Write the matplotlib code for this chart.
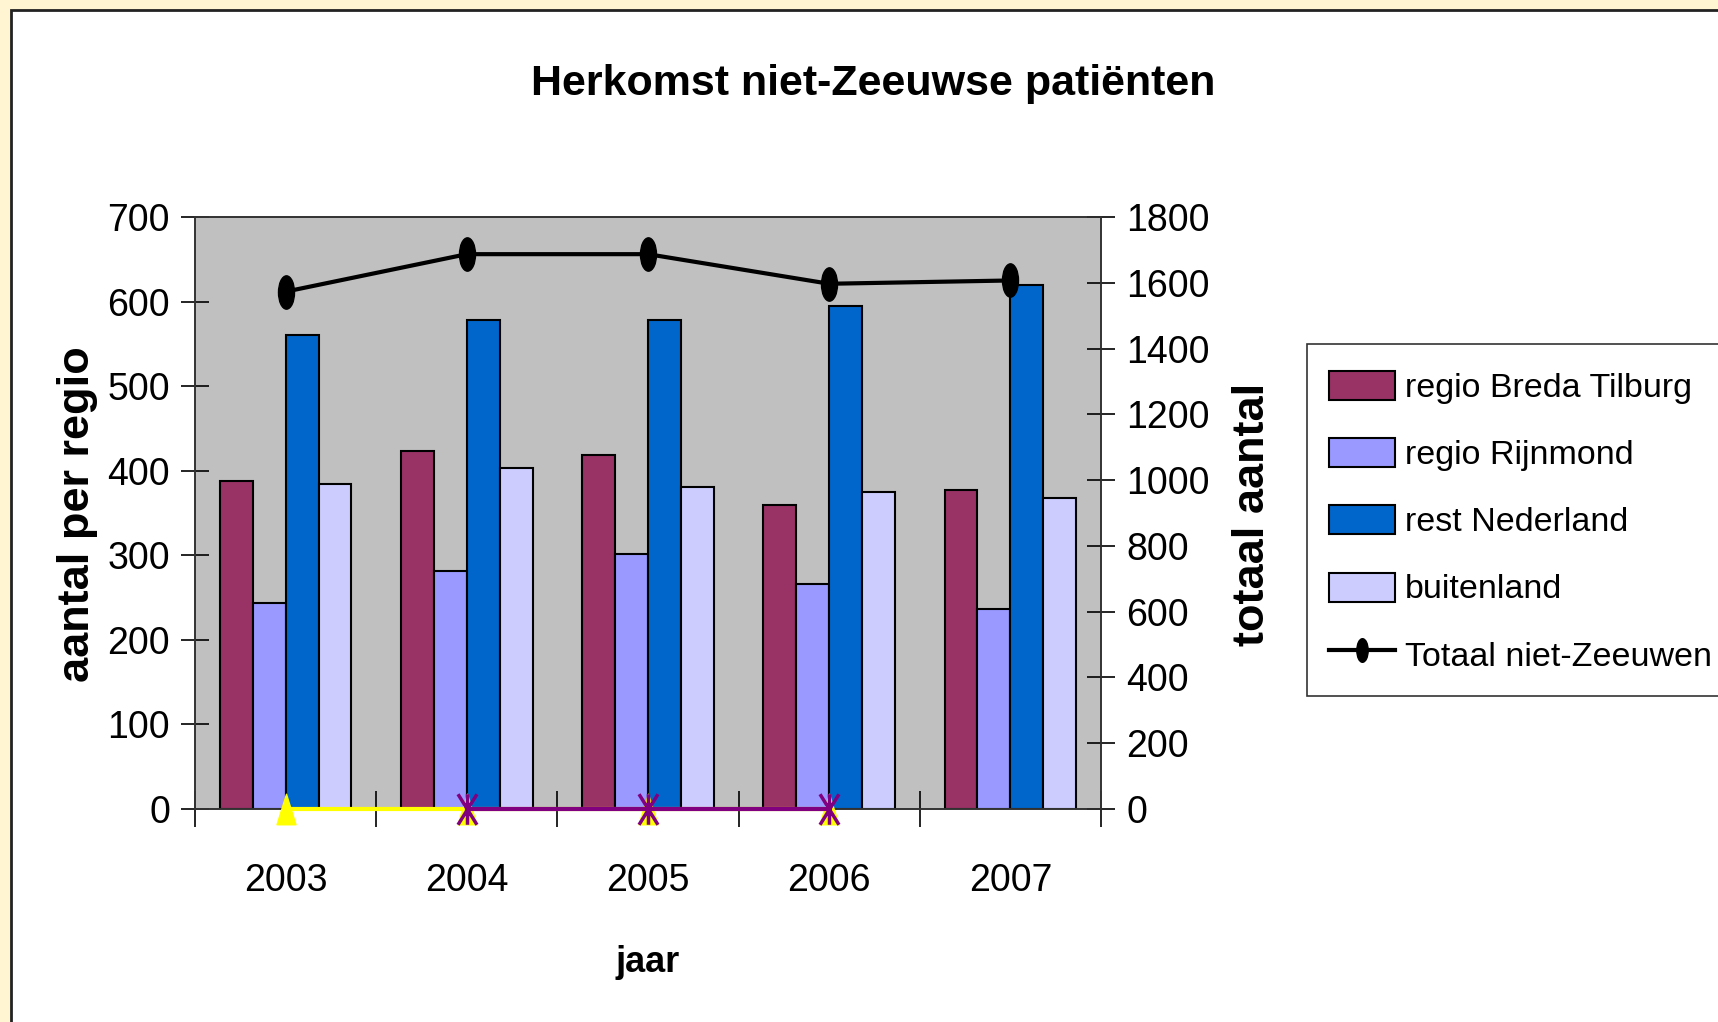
import numpy as np
import matplotlib.pyplot as plt
from matplotlib.patches import Rectangle
from matplotlib.path import Path
from matplotlib.legend_handler import HandlerPatch

# data
jaren = ['2003', '2004', '2005', '2006', '2007']
breda_tilburg = [388, 423, 419, 360, 377]
rijnmond = [244, 281, 301, 266, 237]
rest_nederland = [560, 578, 578, 595, 620]
buitenland = [384, 403, 381, 375, 368]
totaal = [1573, 1687, 1687, 1597, 1607]
# two hidden zero series sitting on the x axis
nul_geel = [0, 0, 0, 0]       # 2003-2006
nul_paars = [0, 0, 0]         # 2004-2006

series = [
    ('regio Breda Tilburg', breda_tilburg, '#993366'),
    ('regio Rijnmond', rijnmond, '#9999FF'),
    ('rest Nederland', rest_nederland, '#0066CC'),
    ('buitenland', buitenland, '#CCCCFF'),
]

FONT = 'Liberation Sans'
TICK = 27

W, H = 1718, 1022
fig = plt.figure(figsize=(W / 100, H / 100), dpi=100)
fig.patch.set_facecolor('#FFF5D2')
fig.patches.append(Rectangle((11 / W, -0.1), 1.2, 1 - 10 / H + 0.1,
                             transform=fig.transFigure, facecolor='white',
                             edgecolor='#222222', linewidth=2, zorder=-5))

ax = fig.add_axes([195 / W, 1 - 809 / H, (1101 - 195) / W, (809 - 217) / H])
ax.set_facecolor('#C0C0C0')

x = np.arange(len(jaren))
w = 1 / 5.5
handles = []
for i, (naam, vals, kleur) in enumerate(series):
    b = ax.bar(x + (i - 1.5) * w, vals, w, color=kleur, edgecolor='black',
               linewidth=1.5, label=naam, zorder=2)
    handles.append(b.patches[0])

ax.set_xlim(-0.5, len(jaren) - 0.5)
ax.set_ylim(0, 700)
ax.set_yticks(range(0, 701, 100))
ax.set_xticks(x)
ax.set_xticklabels(jaren)
ax.set_xticks(np.arange(-0.5, len(jaren)), minor=True)
ax.tick_params(axis='x', which='major', length=0, pad=39)
ax.tick_params(axis='x', which='minor', direction='inout', length=26, width=1.2)
ax.tick_params(axis='y', direction='inout', length=20, width=1.2, pad=8)
for lab in ax.get_xticklabels() + ax.get_yticklabels():
    lab.set_fontfamily(FONT)
    lab.set_fontsize(TICK)

ax2 = ax.twinx()
ax2.set_ylim(0, 1800)
ax2.set_yticks(range(0, 1801, 200))
ax2.tick_params(axis='y', direction='inout', length=20, width=1.2, pad=8)
for lab in ax2.get_yticklabels():
    lab.set_fontfamily(FONT)
    lab.set_fontsize(TICK)

for a in (ax, ax2):
    for s in a.spines.values():
        s.set_color('#333333')
        s.set_linewidth(1.2)

# tall markers, as in the original
circ = Path.unit_circle()
ovaal = Path(circ.vertices * np.array([0.48, 1.0]), circ.codes)
driehoek = Path([(-0.62, -1), (0.62, -1), (0, 1), (-0.62, -1)],
                [Path.MOVETO, Path.LINETO, Path.LINETO, Path.CLOSEPOLY])
ster = Path([(-0.62, -1), (0.62, 1), (0.62, -1), (-0.62, 1), (0, -1), (0, 1)],
            [Path.MOVETO, Path.LINETO] * 3)

ax2.plot(x[:4], nul_geel, color='yellow', lw=3, marker=driehoek, ms=22,
         clip_on=False, zorder=3)
ax2.plot(x[1:4], nul_paars, color='#800080', lw=3, marker=ster, ms=22,
         mew=2.5, clip_on=False, zorder=4)
lijn, = ax2.plot(x, totaal, color='black', lw=3, marker=ovaal, ms=24,
                 label='Totaal niet-Zeeuwen', zorder=5)


def klein_vak(legend, orig_handle, xdescent, ydescent, width, height, fontsize):
    h = 0.85 * fontsize
    return Rectangle((-xdescent, -ydescent + (height - h) / 2), width, h)


leg = fig.legend(handles + [lijn], [s[0] for s in series] + ['Totaal niet-Zeeuwen'],
                 loc='upper left', bbox_to_anchor=(1307 / W, 1 - 344 / H),
                 prop={'family': FONT, 'size': 24.5}, frameon=True,
                 fancybox=False, edgecolor='black', handlelength=1.95,
                 handleheight=1.4, labelspacing=0.82, handletextpad=0.3,
                 borderpad=0.64, borderaxespad=0,
                 handler_map={Rectangle: HandlerPatch(patch_func=klein_vak)})
leg.get_frame().set_linewidth(1.2)
leg.legend_handles[-1].set_markersize(17)

fig.text(873 / W, 1 - 84 / H, 'Herkomst niet-Zeeuwse patiënten',
         family=FONT, fontsize=31, fontweight='bold', ha='center', va='center')
fig.text(648 / W, 1 - 962 / H, 'jaar', family=FONT, fontsize=26,
         fontweight='bold', ha='center', va='center')
fig.text(78 / W, 1 - 514 / H, 'aantal per regio', family=FONT, fontsize=32.5,
         fontweight='bold', rotation=90, ha='center', va='center')
fig.text(1253 / W, 1 - 514 / H, 'totaal aantal', family=FONT, fontsize=32.5,
         fontweight='bold', rotation=90, ha='center', va='center')

fig.savefig('out.png', dpi=100)
